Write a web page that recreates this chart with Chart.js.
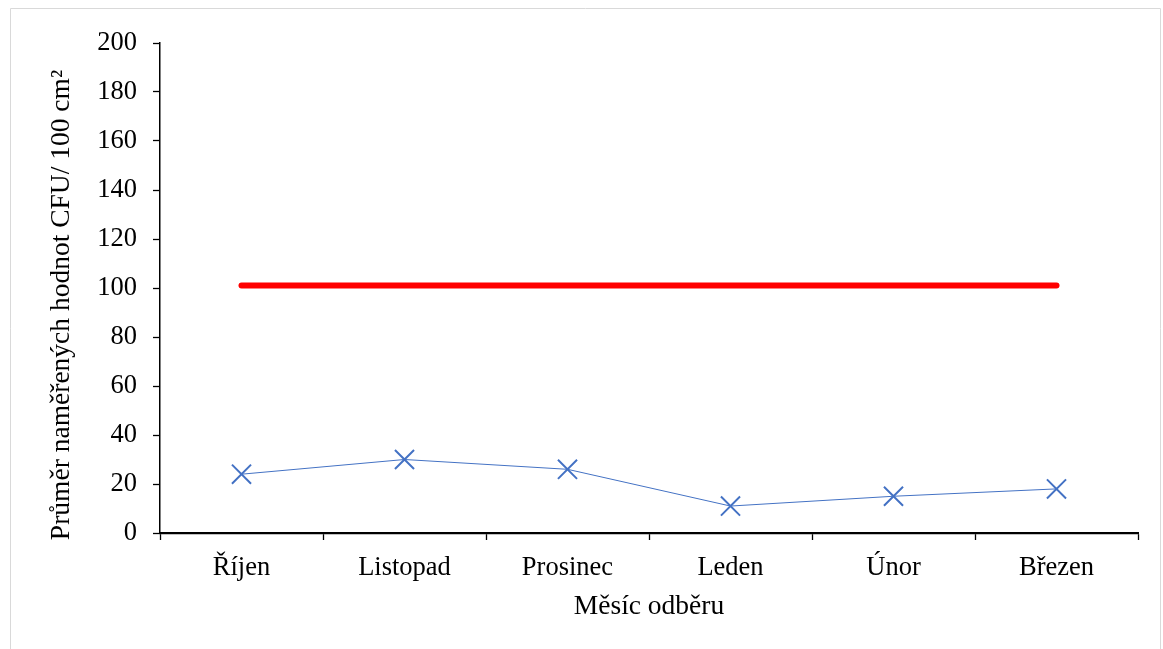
<!DOCTYPE html>
<html lang="cs">
<head>
<meta charset="utf-8">
<title>Průměr naměřených hodnot CFU</title>
<script src="https://cdn.jsdelivr.net/npm/chart.js@4.4.1/dist/chart.umd.min.js"></script>
<style>
  html, body { margin: 0; padding: 0; background: #ffffff; }
  #wrap { position: relative; width: 1163px; height: 649px; }
  canvas { display: block; }
</style>
</head>
<body>
<div id="wrap"><canvas id="chart" width="1163" height="649"></canvas></div>
<script>
// Odběrové měsíce
const months = ['Říjen', 'Listopad', 'Prosinec', 'Leden', 'Únor', 'Březen'];
// Průměrné hodnoty CFU / 100 cm²
const cfuMeans = [24, 30, 26, 11, 15, 18];
// Limitní hodnota
const limitValues = [101, 101, 101, 101, 101, 101];
// Osa y
const yMin = 0;
const yMax = 200;
const yStep = 20;
// Popisky os
const xTitle = 'Měsíc odběru';
const yTitle = 'Průměr naměřených hodnot CFU/ 100 cm²';

const serif = "'Liberation Serif', 'Times New Roman', serif";

// light frame around the whole chart
const framePlugin = {
  id: 'frame',
  beforeDraw(chart) {
    const ctx = chart.ctx;
    ctx.save();
    ctx.strokeStyle = '#d9d9d9';
    ctx.lineWidth = 1;
    ctx.beginPath();
    ctx.moveTo(10.5, 649);
    ctx.lineTo(10.5, 8.5);
    ctx.lineTo(1160.5, 8.5);
    ctx.lineTo(1160.5, 649);
    ctx.stroke();
    ctx.restore();
  }
};

// rotated title of the value axis, placed left of the tick labels
const yTitlePlugin = {
  id: 'yTitle',
  afterDraw(chart) {
    const ctx = chart.ctx;
    const area = chart.chartArea;
    ctx.save();
    ctx.translate(62, (area.top + area.bottom) / 2 + 17);
    ctx.rotate(-Math.PI / 2);
    ctx.font = '27.5px ' + serif;
    ctx.fillStyle = '#000000';
    ctx.textAlign = 'center';
    ctx.textBaseline = 'middle';
    ctx.fillText(yTitle, 0, 0);
    ctx.restore();
  }
};

new Chart(document.getElementById('chart'), {
  type: 'line',
  data: {
    labels: months,
    datasets: [
      {
        label: 'Limit',
        data: limitValues,
        borderColor: '#ff0000',
        borderWidth: 6,
        borderCapStyle: 'round',
        pointRadius: 0,
        fill: false,
        order: 2
      },
      {
        label: 'CFU',
        data: cfuMeans,
        borderColor: '#4472c4',
        borderWidth: 1,
        pointStyle: 'crossRot',
        pointRadius: 13.5,
        pointBorderColor: '#4472c4',
        pointBorderWidth: 2,
        fill: false,
        order: 1
      }
    ]
  },
  options: {
    responsive: false,
    animation: false,
    layout: { padding: { left: 40, right: 25, top: 43, bottom: 26 } },
    plugins: {
      legend: { display: false },
      tooltip: { enabled: false }
    },
    scales: {
      x: {
        offset: true,
        grid: {
          offset: true,
          drawOnChartArea: false,
          drawTicks: true,
          tickLength: 7,
          tickColor: '#000000',
          tickWidth: 1.3
        },
        border: { color: '#000000', width: 2.2 },
        ticks: {
          color: '#000000',
          padding: 12,
          font: { family: serif, size: 26.5 }
        },
        title: {
          display: true,
          text: xTitle,
          color: '#000000',
          font: { family: serif, size: 27.5 },
          padding: { top: 2, bottom: 0 }
        },
        afterFit(scale) { scale.height = 649 - 533 - 26; }
      },
      y: {
        min: yMin,
        max: yMax,
        grid: {
          drawOnChartArea: false,
          drawTicks: true,
          tickLength: 7,
          tickColor: '#000000',
          tickWidth: 1.3
        },
        border: { color: '#000000', width: 1.5 },
        ticks: {
          stepSize: yStep,
          color: '#000000',
          padding: 16,
          font: { family: serif, size: 26.5 }
        },
        afterFit(scale) { scale.width = 160 - 40; }
      }
    }
  },
  plugins: [framePlugin, yTitlePlugin]
});
</script>
</body>
</html>
